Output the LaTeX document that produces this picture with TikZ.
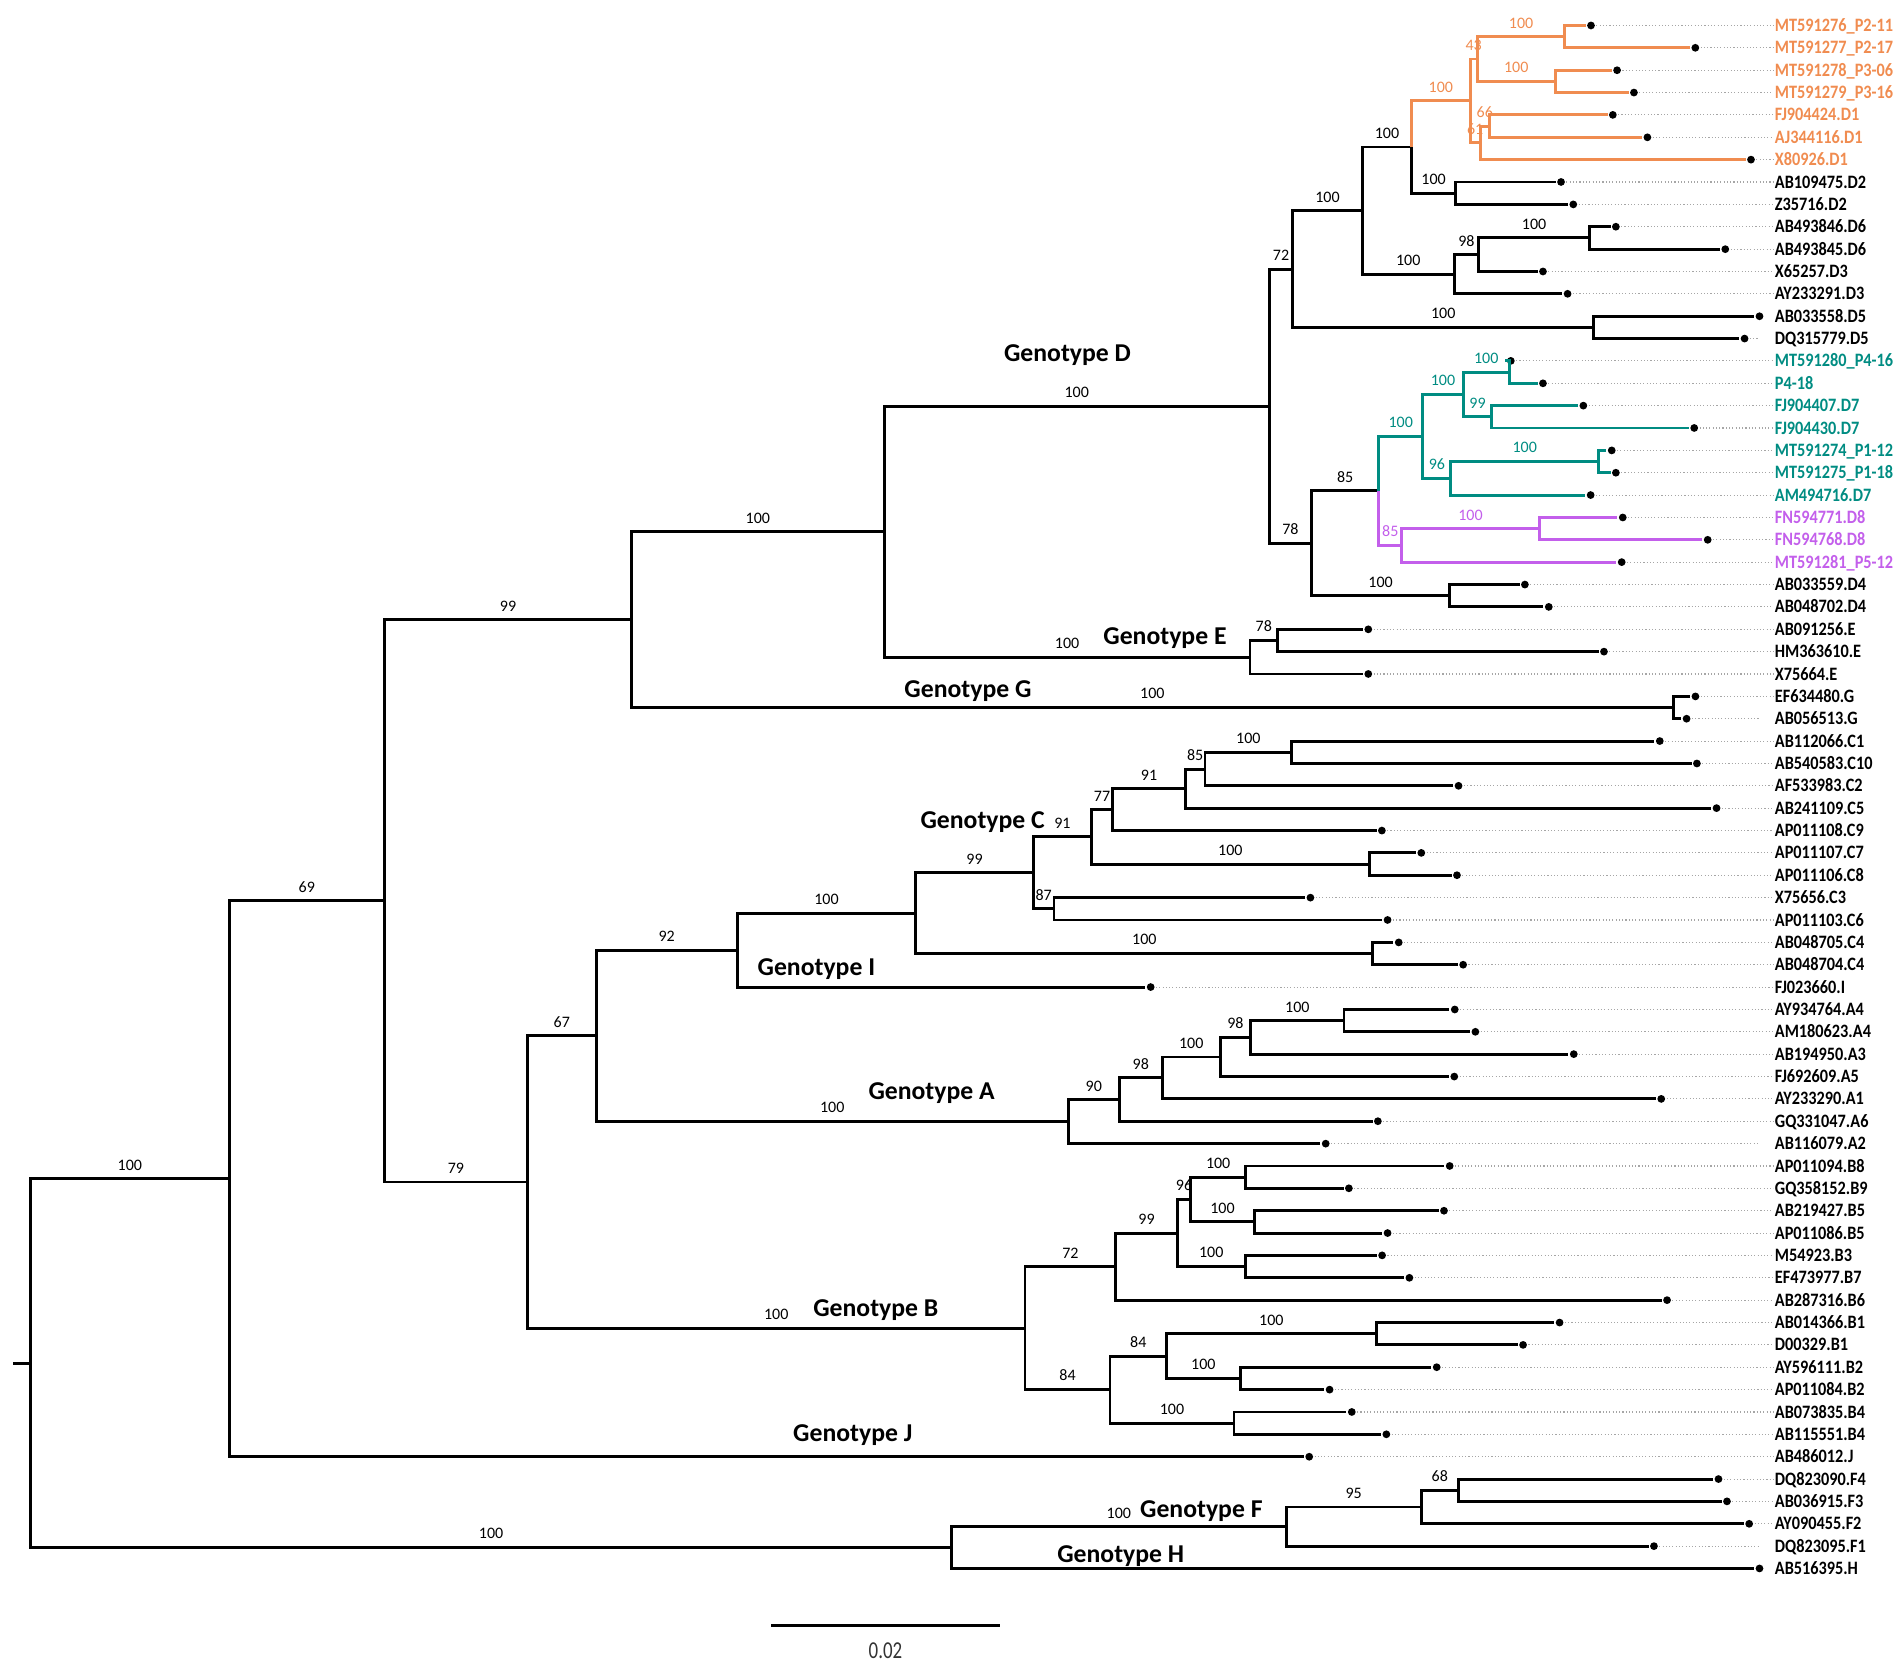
\documentclass[tikz,border=0pt]{standalone}
\usepackage{fontspec}
\setmainfont{Carlito}
\newfontfamily\leaffam[FakeStretch=0.86]{Carlito}
\newfontfamily\barfam[FakeStretch=0.78]{Carlito}
\newcommand\leaffont{\leaffam\bfseries\fontsize{7.8pt}{9pt}\selectfont}
\newcommand\bsfont{\fontsize{6.6pt}{8pt}\selectfont}
\newcommand\genofont{\bfseries\fontsize{10.6pt}{12pt}\selectfont}
\newcommand\barfont{\barfam\fontsize{10pt}{12pt}\selectfont}
\definecolor{clD1}{RGB}{240,140,80}
\definecolor{clD7}{RGB}{0,140,130}
\definecolor{clD8}{RGB}{195,95,235}

\begin{document}
\begin{tikzpicture}[x=0.5pt,y=-0.5pt,line width=1.2pt,
    tip/.style={circle,fill=black,inner sep=0pt,minimum size=3.2pt},
    lab/.style={anchor=west,inner sep=0pt,text height=5pt,text depth=0pt,font=\leaffont},
    guide/.style={black!35,line width=0.45pt,dash pattern=on 0.45pt off 0.9pt,shorten >=6pt},
    bs/.style={pos=0.75,above=2.9pt,inner sep=0pt,font=\bsfont},
    geno/.style={inner sep=0pt,font=\genofont}]

    \useasboundingbox (0,0) rectangle (1568,1378);

    % 叶节点(末端圆点)
    \node[tip] (MT591276) at (1311.6,21.0)   {};
    \node[tip] (MT591277) at (1397.6,39.4)   {};
    \node[tip] (MT591278) at (1333.1,57.9)   {};
    \node[tip] (MT591279) at (1347.0,76.3)   {};
    \node[tip] (FJ904424) at (1329.6,94.7)   {};
    \node[tip] (AJ344116) at (1358.1,113.2)  {};
    \node[tip] (X80926)   at (1443.5,131.6)  {};
    \node[tip] (AB109475) at (1286.9,150.0)  {};
    \node[tip] (Z35716)   at (1297.0,168.5)  {};
    \node[tip] (AB493846) at (1332.1,186.9)  {};
    \node[tip] (AB493845) at (1422.3,205.4)  {};
    \node[tip] (X65257)   at (1272.0,223.8)  {};
    \node[tip] (AY233291) at (1292.3,242.2)  {};
    \node[tip] (AB033558) at (1450.5,260.7)  {};
    \node[tip] (DQ315779) at (1438.2,279.1)  {};
    \node[tip] (MT591280) at (1245.5,297.5)  {};
    \node[tip] (P4-18)    at (1272.0,316.0)  {};
    \node[tip] (FJ904407) at (1305.3,334.4)  {};
    \node[tip] (FJ904430) at (1396.7,352.8)  {};
    \node[tip] (MT591274) at (1328.7,371.3)  {};
    \node[tip] (MT591275) at (1332.1,389.7)  {};
    \node[tip] (AM494716) at (1311.3,408.1)  {};
    \node[tip] (FN594771) at (1337.8,426.6)  {};
    \node[tip] (FN594768) at (1407.8,445.0)  {};
    \node[tip] (MT591281) at (1336.9,463.4)  {};
    \node[tip] (AB033559) at (1257.1,481.9)  {};
    \node[tip] (AB048702) at (1276.8,500.3)  {};
    \node[tip] (AB091256) at (1128.0,518.8)  {};
    \node[tip] (HM363610) at (1322.3,537.2)  {};
    \node[tip] (X75664)   at (1128.0,555.6)  {};
    \node[tip] (EF634480) at (1397.7,574.1)  {};
    \node[tip] (AB056513) at (1390.4,592.5)  {};
    \node[tip] (AB112066) at (1368.3,610.9)  {};
    \node[tip] (AB540583) at (1398.9,629.4)  {};
    \node[tip] (AF533983) at (1202.4,647.8)  {};
    \node[tip] (AB241109) at (1415.1,666.2)  {};
    \node[tip] (AP011108) at (1139.2,684.7)  {};
    \node[tip] (AP011107) at (1171.7,703.1)  {};
    \node[tip] (AP011106) at (1201.1,721.5)  {};
    \node[tip] (X75656)   at (1080.3,740.0)  {};
    \node[tip] (AP011103) at (1143.9,758.4)  {};
    \node[tip] (AB048705) at (1153.1,776.9)  {};
    \node[tip] (AB048704) at (1206.2,795.3)  {};
    \node[tip] (FJ023660) at (948.6,813.7)   {};
    \node[tip] (AY934764) at (1199.3,832.2)  {};
    \node[tip] (AM180623) at (1216.3,850.6)  {};
    \node[tip] (AB194950) at (1297.4,869.0)  {};
    \node[tip] (FJ692609) at (1198.9,887.5)  {};
    \node[tip] (AY233290) at (1369.5,905.9)  {};
    \node[tip] (GQ331047) at (1135.9,924.3)  {};
    \node[tip] (AB116079) at (1092.9,942.8)  {};
    \node[tip] (AP011094) at (1195.1,961.2)  {};
    \node[tip] (GQ358152) at (1112.0,979.6)  {};
    \node[tip] (AB219427) at (1190.4,998.1)  {};
    \node[tip] (AP011086) at (1143.9,1016.5) {};
    \node[tip] (M54923)   at (1139.4,1034.9) {};
    \node[tip] (EF473977) at (1161.9,1053.4) {};
    \node[tip] (AB287316) at (1374.3,1071.8) {};
    \node[tip] (AB014366) at (1285.7,1090.3) {};
    \node[tip] (D00329)   at (1255.6,1108.7) {};
    \node[tip] (AY596111) at (1184.4,1127.1) {};
    \node[tip] (AP011084) at (1096.1,1145.6) {};
    \node[tip] (AB073835) at (1114.4,1164.0) {};
    \node[tip] (AB115551) at (1142.9,1182.4) {};
    \node[tip] (AB486012) at (1079.3,1200.9) {};
    \node[tip] (DQ823090) at (1416.7,1219.3) {};
    \node[tip] (AB036915) at (1423.7,1237.7) {};
    \node[tip] (AY090455) at (1442.0,1256.2) {};
    \node[tip] (DQ823095) at (1363.5,1274.6) {};
    \node[tip] (AB516395) at (1450.5,1293.0) {};

    % 叶节点名称
    \node[lab,clD1] (MT591276-lab) at (1462,21.0)   {MT591276\_P2-11};
    \node[lab,clD1] (MT591277-lab) at (1462,39.4)   {MT591277\_P2-17};
    \node[lab,clD1] (MT591278-lab) at (1462,57.9)   {MT591278\_P3-06};
    \node[lab,clD1] (MT591279-lab) at (1462,76.3)   {MT591279\_P3-16};
    \node[lab,clD1] (FJ904424-lab) at (1462,94.7)   {FJ904424.D1};
    \node[lab,clD1] (AJ344116-lab) at (1462,113.2)  {AJ344116.D1};
    \node[lab,clD1] (X80926-lab)   at (1462,131.6)  {X80926.D1};
    \node[lab] (AB109475-lab) at (1462,150.0)  {AB109475.D2};
    \node[lab] (Z35716-lab)   at (1462,168.5)  {Z35716.D2};
    \node[lab] (AB493846-lab) at (1462,186.9)  {AB493846.D6};
    \node[lab] (AB493845-lab) at (1462,205.4)  {AB493845.D6};
    \node[lab] (X65257-lab)   at (1462,223.8)  {X65257.D3};
    \node[lab] (AY233291-lab) at (1462,242.2)  {AY233291.D3};
    \node[lab] (AB033558-lab) at (1462,260.7)  {AB033558.D5};
    \node[lab] (DQ315779-lab) at (1462,279.1)  {DQ315779.D5};
    \node[lab,clD7] (MT591280-lab) at (1462,297.5) {MT591280\_P4-16};
    \node[lab,clD7] (P4-18-lab)    at (1462,316.0) {P4-18};
    \node[lab,clD7] (FJ904407-lab) at (1462,334.4) {FJ904407.D7};
    \node[lab,clD7] (FJ904430-lab) at (1462,352.8) {FJ904430.D7};
    \node[lab,clD7] (MT591274-lab) at (1462,371.3) {MT591274\_P1-12};
    \node[lab,clD7] (MT591275-lab) at (1462,389.7) {MT591275\_P1-18};
    \node[lab,clD7] (AM494716-lab) at (1462,408.1) {AM494716.D7};
    \node[lab,clD8] (FN594771-lab) at (1462,426.6) {FN594771.D8};
    \node[lab,clD8] (FN594768-lab) at (1462,445.0) {FN594768.D8};
    \node[lab,clD8] (MT591281-lab) at (1462,463.4) {MT591281\_P5-12};
    \node[lab] (AB033559-lab) at (1462,481.9)  {AB033559.D4};
    \node[lab] (AB048702-lab) at (1462,500.3)  {AB048702.D4};
    \node[lab] (AB091256-lab) at (1462,518.8)  {AB091256.E};
    \node[lab] (HM363610-lab) at (1462,537.2)  {HM363610.E};
    \node[lab] (X75664-lab)   at (1462,555.6)  {X75664.E};
    \node[lab] (EF634480-lab) at (1462,574.1)  {EF634480.G};
    \node[lab] (AB056513-lab) at (1462,592.5)  {AB056513.G};
    \node[lab] (AB112066-lab) at (1462,610.9)  {AB112066.C1};
    \node[lab] (AB540583-lab) at (1462,629.4)  {AB540583.C10};
    \node[lab] (AF533983-lab) at (1462,647.8)  {AF533983.C2};
    \node[lab] (AB241109-lab) at (1462,666.2)  {AB241109.C5};
    \node[lab] (AP011108-lab) at (1462,684.7)  {AP011108.C9};
    \node[lab] (AP011107-lab) at (1462,703.1)  {AP011107.C7};
    \node[lab] (AP011106-lab) at (1462,721.5)  {AP011106.C8};
    \node[lab] (X75656-lab)   at (1462,740.0)  {X75656.C3};
    \node[lab] (AP011103-lab) at (1462,758.4)  {AP011103.C6};
    \node[lab] (AB048705-lab) at (1462,776.9)  {AB048705.C4};
    \node[lab] (AB048704-lab) at (1462,795.3)  {AB048704.C4};
    \node[lab] (FJ023660-lab) at (1462,813.7)  {FJ023660.I};
    \node[lab] (AY934764-lab) at (1462,832.2)  {AY934764.A4};
    \node[lab] (AM180623-lab) at (1462,850.6)  {AM180623.A4};
    \node[lab] (AB194950-lab) at (1462,869.0)  {AB194950.A3};
    \node[lab] (FJ692609-lab) at (1462,887.5)  {FJ692609.A5};
    \node[lab] (AY233290-lab) at (1462,905.9)  {AY233290.A1};
    \node[lab] (GQ331047-lab) at (1462,924.3)  {GQ331047.A6};
    \node[lab] (AB116079-lab) at (1462,942.8)  {AB116079.A2};
    \node[lab] (AP011094-lab) at (1462,961.2)  {AP011094.B8};
    \node[lab] (GQ358152-lab) at (1462,979.6)  {GQ358152.B9};
    \node[lab] (AB219427-lab) at (1462,998.1)  {AB219427.B5};
    \node[lab] (AP011086-lab) at (1462,1016.5) {AP011086.B5};
    \node[lab] (M54923-lab)   at (1462,1034.9) {M54923.B3};
    \node[lab] (EF473977-lab) at (1462,1053.4) {EF473977.B7};
    \node[lab] (AB287316-lab) at (1462,1071.8) {AB287316.B6};
    \node[lab] (AB014366-lab) at (1462,1090.3) {AB014366.B1};
    \node[lab] (D00329-lab)   at (1462,1108.7) {D00329.B1};
    \node[lab] (AY596111-lab) at (1462,1127.1) {AY596111.B2};
    \node[lab] (AP011084-lab) at (1462,1145.6) {AP011084.B2};
    \node[lab] (AB073835-lab) at (1462,1164.0) {AB073835.B4};
    \node[lab] (AB115551-lab) at (1462,1182.4) {AB115551.B4};
    \node[lab] (AB486012-lab) at (1462,1200.9) {AB486012.J};
    \node[lab] (DQ823090-lab) at (1462,1219.3) {DQ823090.F4};
    \node[lab] (AB036915-lab) at (1462,1237.7) {AB036915.F3};
    \node[lab] (AY090455-lab) at (1462,1256.2) {AY090455.F2};
    \node[lab] (DQ823095-lab) at (1462,1274.6) {DQ823095.F1};
    \node[lab] (AB516395-lab) at (1462,1293.0) {AB516395.H};

    % 虚线引导线
    \draw[guide] (MT591276) -- (MT591276-lab) (MT591277) -- (MT591277-lab)
                 (MT591278) -- (MT591278-lab) (MT591279) -- (MT591279-lab)
                 (FJ904424) -- (FJ904424-lab) (AJ344116) -- (AJ344116-lab)
                 (X80926) -- (X80926-lab) (AB109475) -- (AB109475-lab)
                 (Z35716) -- (Z35716-lab) (AB493846) -- (AB493846-lab)
                 (AB493845) -- (AB493845-lab) (X65257) -- (X65257-lab)
                 (AY233291) -- (AY233291-lab) (DQ315779) -- (DQ315779-lab);
    \draw[guide] (MT591280) -- (MT591280-lab) (P4-18) -- (P4-18-lab)
                 (FJ904407) -- (FJ904407-lab) (FJ904430) -- (FJ904430-lab)
                 (MT591274) -- (MT591274-lab) (MT591275) -- (MT591275-lab)
                 (AM494716) -- (AM494716-lab) (FN594771) -- (FN594771-lab)
                 (FN594768) -- (FN594768-lab) (MT591281) -- (MT591281-lab)
                 (AB033559) -- (AB033559-lab) (AB048702) -- (AB048702-lab)
                 (AB091256) -- (AB091256-lab) (HM363610) -- (HM363610-lab)
                 (X75664) -- (X75664-lab) (EF634480) -- (EF634480-lab)
                 (AB056513) -- (AB056513-lab);
    \draw[guide] (AB112066) -- (AB112066-lab) (AB540583) -- (AB540583-lab)
                 (AF533983) -- (AF533983-lab) (AB241109) -- (AB241109-lab)
                 (AP011108) -- (AP011108-lab) (AP011107) -- (AP011107-lab)
                 (AP011106) -- (AP011106-lab) (X75656) -- (X75656-lab)
                 (AP011103) -- (AP011103-lab) (AB048705) -- (AB048705-lab)
                 (AB048704) -- (AB048704-lab) (FJ023660) -- (FJ023660-lab)
                 (AY934764) -- (AY934764-lab) (AM180623) -- (AM180623-lab)
                 (AB194950) -- (AB194950-lab) (FJ692609) -- (FJ692609-lab)
                 (AY233290) -- (AY233290-lab) (GQ331047) -- (GQ331047-lab)
                 (AB116079) -- (AB116079-lab);
    \draw[guide] (AP011094) -- (AP011094-lab) (GQ358152) -- (GQ358152-lab)
                 (AB219427) -- (AB219427-lab) (AP011086) -- (AP011086-lab)
                 (M54923) -- (M54923-lab) (EF473977) -- (EF473977-lab)
                 (AB287316) -- (AB287316-lab) (AB014366) -- (AB014366-lab)
                 (D00329) -- (D00329-lab) (AY596111) -- (AY596111-lab)
                 (AP011084) -- (AP011084-lab) (AB073835) -- (AB073835-lab)
                 (AB115551) -- (AB115551-lab) (AB486012) -- (AB486012-lab)
                 (DQ823090) -- (DQ823090-lab) (AB036915) -- (AB036915-lab)
                 (AY090455) -- (AY090455-lab) (DQ823095) -- (DQ823095-lab);

    % 内部节点
    \coordinate (stub)  at (11,1123.75);
    \coordinate (root)  at (25.2,1123.75);
    \coordinate (nJ)    at (189,971.75);
    \coordinate (n69)   at (316.9,742.6);
    \coordinate (n99)   at (520.7,510.8);
    \coordinate (nDE)   at (728.9,438.3);
    \coordinate (nD)    at (1046.4,334.85);
    \coordinate (n72)   at (1065.7,221.8);
    \coordinate (nDsub) at (1123,173.65);
    \coordinate (nDA)   at (1163.8,121.2);
    \coordinate (nOr)   at (1211.9,83.2);
    \coordinate (n43)   at (1217.9,48.65);
    \coordinate (nP2)   at (1290,30.2);
    \coordinate (nP3)   at (1282.1,67.1);
    \coordinate (n61)   at (1220.4,117.8);
    \coordinate (n66)   at (1227.7,103.95);
    \coordinate (nD2)   at (1199.9,159.25);
    \coordinate (nD63)  at (1198.9,226.1);
    \coordinate (n98D)  at (1218.8,210);
    \coordinate (nD6)   at (1310.6,196.15);
    \coordinate (nD5)   at (1313.8,269.9);
    \coordinate (n78)   at (1081.3,447.9);
    \coordinate (n85)   at (1136.6,404.7);
    \coordinate (nD7)   at (1173,359.75);
    \coordinate (nD7a)  at (1206.2,325.2);
    \coordinate (nP4)   at (1244.2,306.75);
    \coordinate (n99D7) at (1229.9,343.6);
    \coordinate (n96)   at (1196.1,394.3);
    \coordinate (nP1)   at (1317.9,380.5);
    \coordinate (nD8)   at (1155.6,449.6);
    \coordinate (nD8p)  at (1268.9,435.8);
    \coordinate (nD4)   at (1195.1,491.1);
    \coordinate (nE)    at (1030.5,541.8);
    \coordinate (nE78)  at (1053.3,528);
    \coordinate (nG)    at (1379.3,583.3);
    \coordinate (n79)   at (434.8,974.4);
    \coordinate (nCIA)  at (491.5,853.9);
    \coordinate (nCI)   at (607.8,783.25);
    \coordinate (nC)    at (754.9,752.8);
    \coordinate (nC99)  at (851.9,719.5);
    \coordinate (nC91b) at (899.8,689.85);
    \coordinate (nC77)  at (917.3,667.4);
    \coordinate (nC91)  at (977.2,650.1);
    \coordinate (nC85)  at (993.4,634);
    \coordinate (nC1)   at (1064.9,620.15);
    \coordinate (nC78)  at (1128.8,712.3);
    \coordinate (nC87)  at (868.9,749.2);
    \coordinate (nC4)   at (1131.8,786.1);
    \coordinate (nA)    at (880.7,924.6);
    \coordinate (nA90)  at (922.8,906.5);
    \coordinate (nA100) at (958.2,888.6);
    \coordinate (nA98)  at (1005.8,871.35);
    \coordinate (nA3)   at (1031.1,855.2);
    \coordinate (nA4)   at (1108,841.4);
    \coordinate (nB)    at (845,1094.85);
    \coordinate (nB72)  at (919.8,1044.15);
    \coordinate (nB99)  at (970.6,1016.5);
    \coordinate (nB96)  at (981.6,988.85);
    \coordinate (nB89)  at (1026.9,970.4);
    \coordinate (nB5)   at (1034,1007.3);
    \coordinate (nB37)  at (1026.4,1044.15);
    \coordinate (nB84b) at (915.1,1145.55);
    \coordinate (nB84a) at (961.8,1117.9);
    \coordinate (nB1)   at (1134.4,1099.5);
    \coordinate (nB2)   at (1022.3,1136.35);
    \coordinate (nB4)   at (1017.3,1173.2);
    \coordinate (nFH)   at (784.5,1275.75);
    \coordinate (nF)    at (1060.2,1258.5);
    \coordinate (nF95)  at (1171.7,1242.35);
    \coordinate (nF68)  at (1202.2,1228.5);

    % 树枝与支持率
    \draw (stub) -- (root);
    \draw (root) |- node[bs] {100} (nJ);
    \draw (root) |- node[bs] {100} (nFH);
    \draw (nJ) |- node[bs] {69} (n69);
    \draw (nJ) |- (AB486012);
    \draw (n69) |- node[bs] {99} (n99);
    \draw (n69) |- node[bs] {79} (n79);
    \draw (n99) |- node[bs] {100} (nDE);
    \draw (n99) |- node[bs] {100} (nG);
    \draw (nDE) |- node[bs] {100} (nD);
    \draw (nDE) |- node[bs] {100} (nE);
    \draw (nD) |- node[bs] {72} (n72);
    \draw (nD) |- node[bs] {78} (n78);
    \draw (n72) |- node[bs] {100} (nDsub);
    \draw (n72) |- node[bs] {100} (nD5);
    \draw (nDsub) |- node[bs] {100} (nDA);
    \draw (nDsub) |- node[bs] {100} (nD63);
    \draw[clD1] (nDA) |- node[bs] {100} (nOr);
    \draw (nDA) |- node[bs] {100} (nD2);
    \draw[clD1] (nOr) |- node[bs] {43} (n43);
    \draw[clD1] (nOr) |- node[bs] {61} (n61);
    \draw[clD1] (n43) |- node[bs] {100} (nP2);
    \draw[clD1] (n43) |- node[bs] {100} (nP3);
    \draw[clD1] (nP2) |- (MT591276);
    \draw[clD1] (nP2) |- (MT591277);
    \draw[clD1] (nP3) |- (MT591278);
    \draw[clD1] (nP3) |- (MT591279);
    \draw[clD1] (n61) |- node[bs] {66} (n66);
    \draw[clD1] (n61) |- (X80926);
    \draw[clD1] (n66) |- (FJ904424);
    \draw[clD1] (n66) |- (AJ344116);
    \draw (nD2) |- (AB109475);
    \draw (nD2) |- (Z35716);
    \draw (nD63) |- node[bs] {98} (n98D);
    \draw (nD63) |- (AY233291);
    \draw (n98D) |- node[bs] {100} (nD6);
    \draw (n98D) |- (X65257);
    \draw (nD6) |- (AB493846);
    \draw (nD6) |- (AB493845);
    \draw (nD5) |- (AB033558);
    \draw (nD5) |- (DQ315779);
    \draw (n78) |- node[bs] {85} (n85);
    \draw (n78) |- node[bs] {100} (nD4);
    \draw[clD7] (n85) |- node[bs] {100} (nD7);
    \draw[clD8] (n85) |- node[bs] {85} (nD8);
    \draw[clD7] (nD7) |- node[bs] {100} (nD7a);
    \draw[clD7] (nD7) |- node[bs] {96} (n96);
    \draw[clD7] (nD7a) |- node[bs] {100} (nP4);
    \draw[clD7] (nD7a) |- node[bs] {99} (n99D7);
    \draw[clD7] (nP4) |- (MT591280);
    \draw[clD7] (nP4) |- (P4-18);
    \draw[clD7] (n99D7) |- (FJ904407);
    \draw[clD7] (n99D7) |- (FJ904430);
    \draw[clD7] (n96) |- node[bs] {100} (nP1);
    \draw[clD7] (n96) |- (AM494716);
    \draw[clD7] (nP1) |- (MT591274);
    \draw[clD7] (nP1) |- (MT591275);
    \draw[clD8] (nD8) |- node[bs] {100} (nD8p);
    \draw[clD8] (nD8) |- (MT591281);
    \draw[clD8] (nD8p) |- (FN594771);
    \draw[clD8] (nD8p) |- (FN594768);
    \draw (nD4) |- (AB033559);
    \draw (nD4) |- (AB048702);
    \draw (nE) |- node[bs] {78} (nE78);
    \draw (nE) |- (X75664);
    \draw (nE78) |- (AB091256);
    \draw (nE78) |- (HM363610);
    \draw (nG) |- (EF634480);
    \draw (nG) |- (AB056513);
    \draw (n79) |- node[bs] {67} (nCIA);
    \draw (n79) |- node[bs] {100} (nB);
    \draw (nCIA) |- node[bs] {92} (nCI);
    \draw (nCIA) |- node[bs] {100} (nA);
    \draw (nCI) |- node[bs] {100} (nC);
    \draw (nCI) |- (FJ023660);
    \draw (nC) |- node[bs] {99} (nC99);
    \draw (nC) |- node[bs] {100} (nC4);
    \draw (nC99) |- node[bs] {91} (nC91b);
    \draw (nC99) |- node[bs] {87} (nC87);
    \draw (nC91b) |- node[bs] {77} (nC77);
    \draw (nC91b) |- node[bs] {100} (nC78);
    \draw (nC77) |- node[bs] {91} (nC91);
    \draw (nC77) |- (AP011108);
    \draw (nC91) |- node[bs] {85} (nC85);
    \draw (nC91) |- (AB241109);
    \draw (nC85) |- node[bs] {100} (nC1);
    \draw (nC85) |- (AF533983);
    \draw (nC1) |- (AB112066);
    \draw (nC1) |- (AB540583);
    \draw (nC78) |- (AP011107);
    \draw (nC78) |- (AP011106);
    \draw (nC87) |- (X75656);
    \draw (nC87) |- (AP011103);
    \draw (nC4) |- (AB048705);
    \draw (nC4) |- (AB048704);
    \draw (nA) |- node[bs] {90} (nA90);
    \draw (nA) |- (AB116079);
    \draw (nA90) |- node[bs] {98} (nA100);
    \draw (nA90) |- (GQ331047);
    \draw (nA100) |- node[bs] {100} (nA98);
    \draw (nA100) |- (AY233290);
    \draw (nA98) |- node[bs] {98} (nA3);
    \draw (nA98) |- (FJ692609);
    \draw (nA3) |- node[bs] {100} (nA4);
    \draw (nA3) |- (AB194950);
    \draw (nA4) |- (AY934764);
    \draw (nA4) |- (AM180623);
    \draw (nB) |- node[bs] {72} (nB72);
    \draw (nB) |- node[bs] {84} (nB84b);
    \draw (nB72) |- node[bs] {99} (nB99);
    \draw (nB72) |- (AB287316);
    \draw (nB99) |- node[bs] {96} (nB96);
    \draw (nB99) |- node[bs] {100} (nB37);
    \draw (nB96) |- node[bs] {100} (nB89);
    \draw (nB96) |- node[bs] {100} (nB5);
    \draw (nB89) |- (AP011094);
    \draw (nB89) |- (GQ358152);
    \draw (nB5) |- (AB219427);
    \draw (nB5) |- (AP011086);
    \draw (nB37) |- (M54923);
    \draw (nB37) |- (EF473977);
    \draw (nB84b) |- node[bs] {84} (nB84a);
    \draw (nB84b) |- node[bs] {100} (nB4);
    \draw (nB84a) |- node[bs] {100} (nB1);
    \draw (nB84a) |- node[bs] {100} (nB2);
    \draw (nB1) |- (AB014366);
    \draw (nB1) |- (D00329);
    \draw (nB2) |- (AY596111);
    \draw (nB2) |- (AP011084);
    \draw (nB4) |- (AB073835);
    \draw (nB4) |- (AB115551);
    \draw (nFH) |- node[bs] {100} (nF);
    \draw (nFH) |- (AB516395);
    \draw (nF) |- node[bs] {95} (nF95);
    \draw (nF) |- (DQ823095);
    \draw (nF95) |- node[bs] {68} (nF68);
    \draw (nF95) |- (AY090455);
    \draw (nF68) |- (DQ823090);
    \draw (nF68) |- (AB036915);

    % 基因型标签
    \node[geno] (gD) at (880,292.7)   {Genotype D};
    \node[geno] (gE) at (960.4,525.7) {Genotype E};
    \node[geno] (gG) at (798,569.7)   {Genotype G};
    \node[geno] (gC) at (810.1,677.4) {Genotype C};
    \node[geno] (gI) at (673,799)     {Genotype I};
    \node[geno] (gA) at (768,901)     {Genotype A};
    \node[geno] (gB) at (722,1080)    {Genotype B};
    \node[geno] (gJ) at (703,1183)    {Genotype J};
    \node[geno] (gF) at (990.4,1245.7) {Genotype F};
    \node[geno] (gH) at (923.9,1282.6) {Genotype H};

    % 标尺
    \coordinate (sbL) at (636,1340);
    \coordinate (sbR) at (824,1340);
    \draw[line width=0.9pt] (sbL) -- node[below=6.8pt,inner sep=0pt,font=\barfont,text=black!80] (sbT) {0.02} (sbR);

\end{tikzpicture}
\end{document}
